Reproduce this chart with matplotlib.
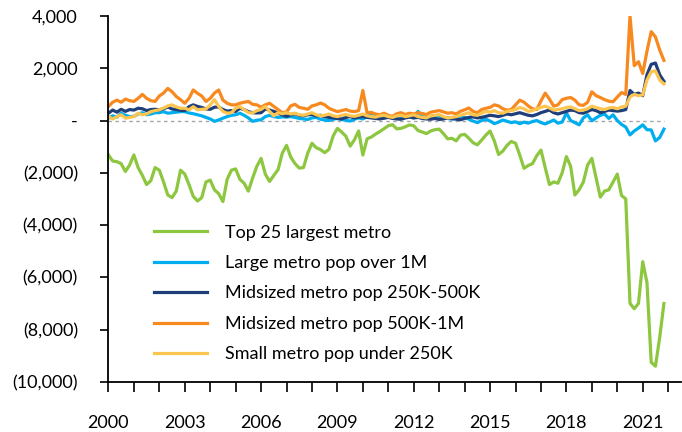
import numpy as np
import matplotlib
matplotlib.use("Agg")
import matplotlib.pyplot as plt

plt.rcParams['font.family'] = ['Lato', 'DejaVu Sans']

# bimonthly readings, Jan 2000 .. Nov 2021 (6 values per year)
years = 2000 + np.arange(132) / 6.0

top25 = [
    -1316, -1550, -1574, -1650, -1950, -1700,
    -1316, -1800, -2100, -2450, -2300, -1800,
    -1900, -2350, -2850, -2950, -2700, -1900,
    -2050, -2450, -2900, -3080, -2950, -2350,
    -2280, -2650, -2800, -3100, -2250, -1900,
    -1850, -2250, -2400, -2700, -2200, -1750,
    -1450, -2050, -2330, -2100, -1880, -1250,
    -950, -1400, -1650, -1820, -1800, -1250,
    -870, -1040, -1110, -1230, -1100, -590,
    -300, -440, -600, -980, -740, -400,
    -1320, -700, -630, -520, -420, -310,
    -200, -160, -320, -300, -240, -170,
    -200, -380, -440, -500, -400, -350,
    -330, -500, -700, -680, -780, -560,
    -530, -680, -850, -930, -750, -560,
    -400, -780, -1300, -1170, -950, -800,
    -870, -1320, -1830, -1720, -1650, -1350,
    -1130, -1800, -2450, -2350, -2400, -2000,
    -1380, -1750, -2850, -2650, -2350, -1700,
    -1450, -2200, -2930, -2700, -2650, -2350,
    -2050, -2870, -3000, -7000, -7200, -7000,
    -5400, -6200, -9250, -9400, -8300, -7000,
]

large = [
    90, 180, 130, 280, 200, 150,
    160, 250, 300, 220, 250, 300,
    300, 340, 280, 300, 320, 340,
    340, 290, 260, 220, 180, 120,
    60, -30, 20, 90, 150, 200,
    220, 280, 200, 100, -30, 10,
    30, 150, 200, 150, 120, 140,
    130, 150, 120, 80, 60, 40,
    100, 120, 50, 20, 0, 50,
    80, 40, 10, -20, 50, 100,
    60, 150, 250, 200, 120, 100,
    150, 100, 80, 120, 200, 180,
    100, 350, 150, 120, 80, 100,
    150, 120, 80, 50, 100, 150,
    120, 50, -20, -80, 0, 50,
    -20, -120, -60, 20, -30, -80,
    -50, -120, -60, -100, -40, 0,
    -80, -130, -60, 20, -100, -60,
    290, 0, -80, -165, 100, 218,
    -10, 100, 200, 250, 80, 218,
    0, -150, -250, -550, -400, -290,
    -165, -350, -360, -780, -650, -330,
]

mid_250_500 = [
    280, 400, 320, 430, 350, 420,
    400, 470, 450, 380, 420, 430,
    410, 450, 520, 440, 420, 390,
    380, 530, 600, 540, 500, 440,
    430, 510, 520, 420, 360, 380,
    350, 470, 420, 340, 300, 290,
    300, 440, 400, 350, 280, 220,
    160, 220, 260, 200, 180, 220,
    230, 180, 200, 150, 120, 100,
    80, 60, 120, 150, 100, 130,
    150, 120, 100, 80, 60, 90,
    120, 80, 60, 50, 100, 130,
    100, 120, 80, 60, 50, 80,
    40, 60, 100, 80, 50, 30,
    80, 120, 140, 100, 120, 160,
    200, 180, 150, 200, 250, 220,
    260, 300, 250, 200, 180, 230,
    300, 350, 400, 300, 250, 300,
    350, 400, 380, 300, 280, 350,
    420, 380, 300, 350, 400, 380,
    360, 380, 420, 1150, 1000, 1050,
    950, 1750, 2150, 2200, 1750, 1500,
]

mid_500_1m = [
    540, 700, 780, 700, 820, 760,
    730, 850, 1000, 850, 760, 730,
    940, 1050, 1230, 1100, 920, 800,
    660, 850, 1170, 1040, 940, 730,
    850, 1050, 1170, 780, 660, 600,
    600, 660, 700, 730, 620, 600,
    510, 600, 660, 540, 420, 300,
    330, 560, 620, 500, 470, 430,
    560, 600, 670, 600, 470, 400,
    340, 380, 420, 360, 340, 380,
    1150, 290, 310, 250, 220, 280,
    200, 160, 260, 300, 230, 280,
    250, 300, 270, 230, 320, 350,
    380, 330, 280, 300, 250, 350,
    410, 480, 350, 300, 420, 470,
    500, 600, 560, 450, 400, 420,
    600, 780, 700, 560, 450, 420,
    750, 1050, 820, 550, 600, 800,
    850, 880, 780, 600, 580, 700,
    1100, 950, 880, 800, 740, 720,
    900, 1070, 1000, 4000, 2100, 2250,
    1800, 2650, 3400, 3200, 2700, 2300,
]

small = [
    150, 60, 150, 220, 90, 120,
    150, 280, 220, 250, 340, 380,
    410, 480, 560, 600, 520, 470,
    470, 410, 530, 410, 430, 440,
    600, 800, 540, 350, 280, 300,
    470, 530, 420, 300, 290, 380,
    430, 540, 350, 180, 300, 260,
    300, 250, 280, 220, 200, 250,
    300, 220, 180, 200, 250, 180,
    150, 200, 230, 180, 160, 200,
    250, 180, 150, 130, 180, 200,
    150, 120, 180, 200, 150, 180,
    220, 150, 120, 100, 180, 200,
    230, 150, 100, 120, 150, 200,
    250, 300, 220, 200, 280, 350,
    320, 380, 300, 280, 350, 380,
    420, 500, 450, 350, 380, 450,
    500, 550, 480, 400, 420, 450,
    500, 520, 450, 380, 400, 450,
    550, 500, 450, 420, 480, 500,
    450, 520, 550, 900, 1000, 950,
    980, 1550, 1870, 1900, 1550, 1400,
]

labels = ["Top 25 largest metro", "Large metro pop over 1M",
          "Midsized metro pop 250K-500K", "Midsized metro pop 500K-1M",
          "Small metro pop under 250K"]
colors = ["#8DC63F", "#00AEEF", "#1F3F7A", "#F7891F", "#FBC54F"]

yticks = [4000, 2000, 0, -2000, -4000, -6000, -8000, -10000]
ytick_labels = ["4,000", "2,000", "-", "(2,000)", "(4,000)", "(6,000)", "(8,000)", "(10,000)"]
xticks = list(range(2000, 2023))
xtick_labels = [str(y) if (y - 2000) % 3 == 0 else "" for y in xticks]

fig = plt.figure(figsize=(6.82, 4.32), dpi=100)
ax = fig.add_axes([0.159, 0.116, 0.839, 0.847])

ax.plot(years, np.zeros_like(years), ls=(0, (2.5, 2.5)), lw=1, c='#A6A6A6', zorder=1)
for series, lab, col in zip([top25, large, mid_250_500, mid_500_1m, small], labels, colors):
    ax.plot(years, series, lw=2.3, c=col, label=lab, zorder=2)

ax.set_xlim(2000, 2022.49)
ax.set_ylim(-10000, 4000)
ax.set_xticks(xticks)
ax.set_xticklabels(xtick_labels)
ax.set_yticks(yticks)
ax.set_yticklabels(ytick_labels)
ax.tick_params(axis='x', direction='out', length=7, width=1.2, pad=17, labelsize=13)
ax.tick_params(axis='y', direction='out', length=6, width=1.2, pad=16, labelsize=13)

for s in ['top', 'right']:
    ax.spines[s].set_visible(False)
for s in ['left', 'bottom']:
    ax.spines[s].set_linewidth(1.3)

ax.legend(loc='upper left', bbox_to_anchor=(0.08, 0.43), frameon=False,
          fontsize=13, handlelength=2.9, handletextpad=1.0, labelspacing=0.8,
          borderpad=0, borderaxespad=0)

fig.savefig('out.png', dpi=100)
